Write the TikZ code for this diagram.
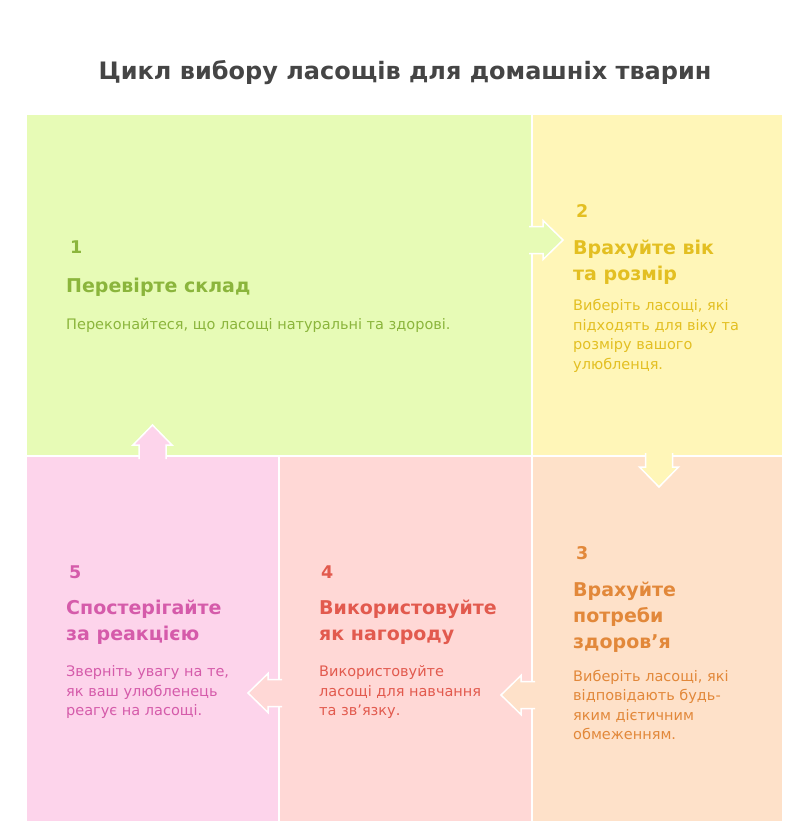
\documentclass[tikz,border=0pt]{standalone}
\usepackage{fontspec}
\setmainfont{DejaVu Sans}
\usepackage{xcolor}
\usepackage{tikz}
\definecolor{titlegray}{HTML}{454545}
\definecolor{limebg}{HTML}{E7FBB6}
\definecolor{limetx}{HTML}{8BB53C}
\definecolor{sunbg}{HTML}{FFF6B8}
\definecolor{suntx}{HTML}{E3BF22}
\definecolor{peachbg}{HTML}{FEE1C9}
\definecolor{peachtx}{HTML}{E2883A}
\definecolor{rosebg}{HTML}{FFD8D6}
\definecolor{rosetx}{HTML}{E25A4E}
\definecolor{pinkbg}{HTML}{FDD4EB}
\definecolor{pinktx}{HTML}{D55BAA}

\begin{document}
\begin{tikzpicture}
[x=1pt,y=-1pt,
panel/.style={rectangle,draw=white,line width=1.5pt,inner sep=0pt,outer sep=0pt},
num/.style={anchor=west,inner sep=0pt,font=\bfseries\fontsize{17.5}{20}\selectfont},
head/.style={anchor=west,align=left,inner sep=0pt,font=\bfseries\fontsize{19}{26}\selectfont},
desc/.style={anchor=west,align=left,inner sep=0pt,font=\fontsize{14.5}{19.5}\selectfont},
pics/flowarrow/.style={code={
  \filldraw[fill=#1,draw=white,line width=1.5pt,line join=miter]
    (-3,-13.5) -- (11,-13.5) -- (11,-19.5) -- (31,0) -- (11,19.5) -- (11,13.5) -- (-3,13.5);}}]

\useasboundingbox (0,0) rectangle (786,825);

\node at (405,73) [font=\bfseries\fontsize{24}{30}\selectfont,text=titlegray] (title)
  {Цикл вибору ласощів для домашніх тварин};

\node at (279,285)   [panel,fill=limebg, minimum width=506pt,minimum height=342pt] (p1) {};
\node at (657.5,285) [panel,fill=sunbg,  minimum width=251pt,minimum height=342pt] (p2) {};
\node at (657.5,639) [panel,fill=peachbg,minimum width=251pt,minimum height=366pt] (p3) {};
\node at (405.5,639) [panel,fill=rosebg, minimum width=253pt,minimum height=366pt] (p4) {};
\node at (152.5,639) [panel,fill=pinkbg, minimum width=253pt,minimum height=366pt] (p5) {};

\coordinate (a12) at ([yshift=45pt]p1.east);
\coordinate (a23) at ([xshift=1.5pt]p2.south);
\coordinate (a34) at ([yshift=-56pt]p3.west);
\coordinate (a45) at ([yshift=-54pt]p4.west);
\coordinate (a51) at (p5.north);
\pic at (a12)              {flowarrow=limebg};
\pic[rotate=-90] at (a23)  {flowarrow=sunbg};
\pic[rotate=180] at (a34)  {flowarrow=peachbg};
\pic[rotate=180] at (a45)  {flowarrow=rosebg};
\pic[rotate=90] at (a51)   {flowarrow=pinkbg};

\node at (70,247)  [num, text=limetx] (n1) {1};
\node at (66,287)  [head,text=limetx] (h1) {Перевірте склад};
\node at (66,325)  [desc,text=limetx] (d1) {Переконайтеся, що ласощі натуральні та здорові.};

\node at (576,211)   [num, text=suntx] (n2) {2};
\node at (573,262.5) [head,text=suntx] (h2) {Врахуйте вік\\та розмір};
\node at (573,336)   [desc,text=suntx] (d2) {Виберіть ласощі, які\\підходять для віку та\\розміру вашого\\улюбленця.};

\node at (576,553) [num, text=peachtx] (n3) {3};
\node at (573,617) [head,text=peachtx] (h3) {Врахуйте\\потреби\\здоров'я};
\node at (573,705) [desc,text=peachtx] (d3) {Виберіть ласощі, які\\відповідають будь-\\яким дієтичним\\обмеженням.};

\node at (321,572) [num, text=rosetx] (n4) {4};
\node at (319,622) [head,text=rosetx] (h4) {Використовуйте\\як нагороду};
\node at (319,692) [desc,text=rosetx] (d4) {Використовуйте\\ласощі для навчання\\та зв'язку.};

\node at (69,572) [num, text=pinktx] (n5) {5};
\node at (66,622) [head,text=pinktx] (h5) {Спостерігайте\\за реакцією};
\node at (66,692) [desc,text=pinktx] (d5) {Зверніть увагу на те,\\як ваш улюбленець\\реагує на ласощі.};
\end{tikzpicture}
\end{document}
